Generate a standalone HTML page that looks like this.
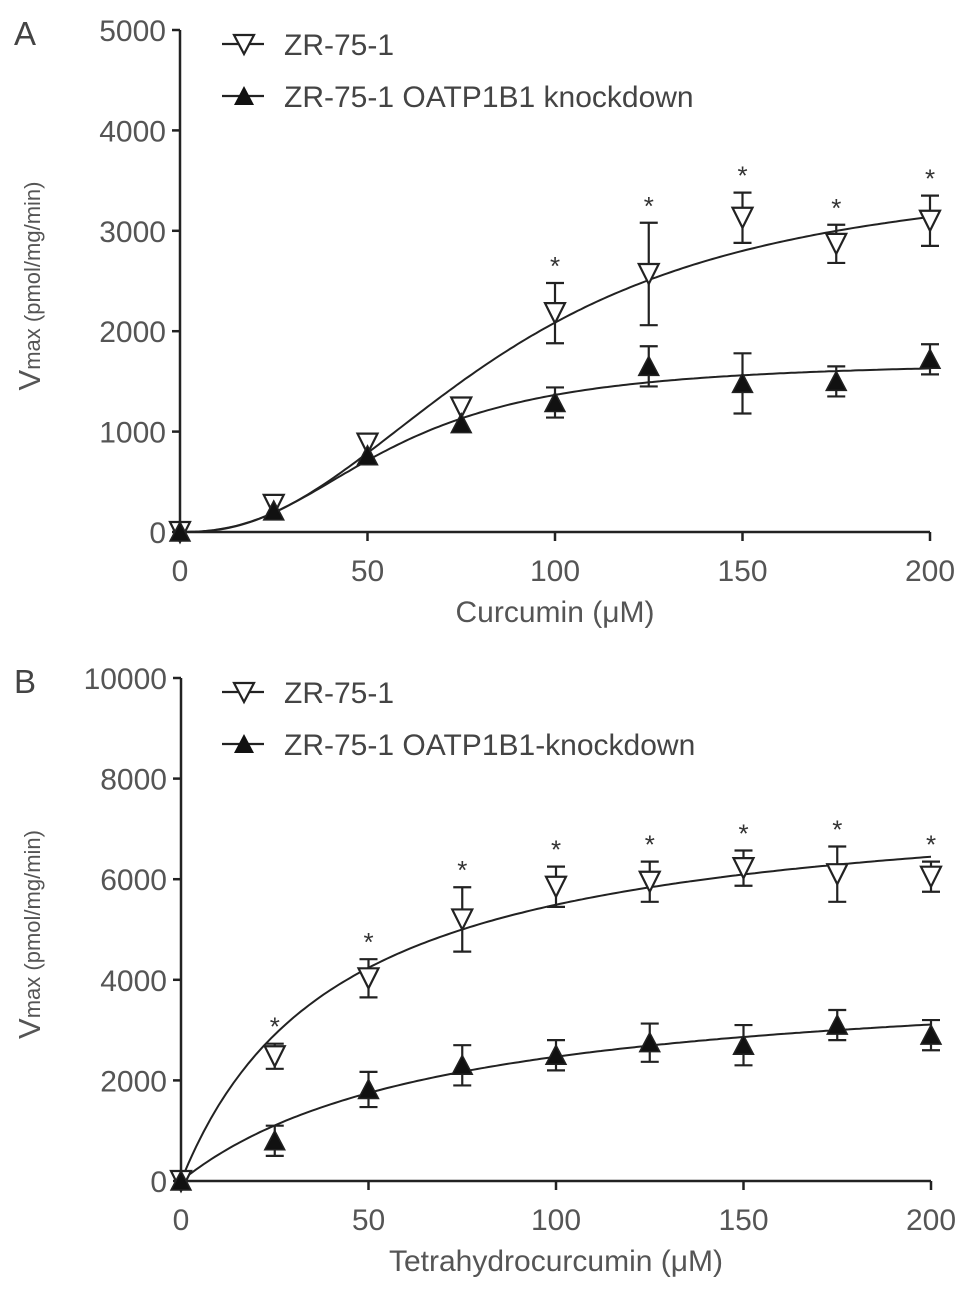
<!DOCTYPE html>
<html><head><meta charset="utf-8"><style>
html,body{margin:0;padding:0;background:#fff}
svg{display:block;font-family:"Liberation Sans",Arial,sans-serif}
</style></head><body>
<svg id="s" width="969" height="1292" viewBox="0 0 969 1292"></svg>
<script>
const xTicks=[0,50,100,150,200];
const aYTicks=[0,1000,2000,3000,4000,5000];
const bYTicks=[0,2000,4000,6000,8000,10000];
const conc=[0,25,50,75,100,125,150,175,200];
const aOpen=[0,270,880,1240,2180,2570,3130,2870,3100];
const aOpenErr=[0,0,0,0,300,510,250,190,250];
const aClosed=[0,210,760,1080,1290,1650,1480,1500,1720];
const aClosedErr=[0,0,0,0,150,200,300,150,150];
const aStar=[false,false,false,false,true,true,true,true,true];
const bOpen=[0,2480,4030,5200,5850,5950,6220,6100,6050];
const bOpenErr=[0,250,380,640,400,400,350,550,300];
const bClosed=[0,800,1820,2300,2500,2750,2700,3100,2900];
const bClosedErr=[0,300,350,400,300,380,400,300,300];
const bStar=[false,true,true,true,true,true,true,true,true];
const aOpenFit={vmax:3600,k:87,n:2.3};
const aClosedFit={vmax:1700,k:57,n:2.5};
const bOpenFit={vmax:7800,k:42};
const bClosedFit={vmax:4200,k:70};

const svg=document.getElementById('s');
const NS='http://www.w3.org/2000/svg';
function el(t,a,p){const e=document.createElementNS(NS,t);for(const k in a)e.setAttribute(k,a[k]);(p||svg).appendChild(e);return e;}

function panel(cfg){
  const g=el('g',{});
  
  
  const X=v=>cfg.x0+(v/200)*(cfg.x1-cfg.x0);
  const Y=v=>cfg.y0-(v/cfg.ymax)*(cfg.y0-cfg.y1);
  const c='#222';
  const ax=el('path',{d:`M${cfg.x0} ${cfg.y1}V${cfg.y0}H${X(200)}`,stroke:c,'stroke-width':2.5,fill:'none'},g);
  
  cfg.yTicks.forEach(t=>{
    el('line',{x1:cfg.x0-8,x2:cfg.x0,y1:Y(t),y2:Y(t),stroke:c,'stroke-width':2.5},g);
    const tx=el('text',{x:cfg.x0-14,y:Y(t)+11,'text-anchor':'end','font-size':30,fill:'#555'},g);
    tx.textContent=t;
    
  });
  xTicks.forEach(t=>{
    el('line',{x1:X(t),x2:X(t),y1:cfg.y0,y2:cfg.y0+9,stroke:c,'stroke-width':2.5},g);
    const tx=el('text',{x:X(t),y:cfg.y0+49,'text-anchor':'middle','font-size':30,fill:'#555'},g);
    tx.textContent=t;
    
  });
  const xt=el('text',{x:(cfg.x0+X(200))/2,y:cfg.y0+90,'text-anchor':'middle','font-size':30,fill:'#555'},g);
  xt.textContent=cfg.xtitle;
  
  const yt=el('text',{transform:`translate(40 ${(cfg.y0+cfg.y1)/2+5}) rotate(-90)`,'text-anchor':'middle','font-size':31,fill:'#555'},g);
  yt.innerHTML='V<tspan font-size="22">max (pmol/mg/min)</tspan>';
  
  const lt=el('text',{x:14,y:cfg.y1+15,'font-size':33,fill:'#444'},g);
  lt.textContent=cfg.letter;
  
  [[cfg.fitO,'fit-curve-control'],[cfg.fitC,'fit-curve-knockdown']].forEach(([f,n])=>{
    let d='';for(let i=0;i<=200;i++){const x=i;const v=f(x);d+=(i?'L':'M')+X(x).toFixed(1)+' '+Y(v).toFixed(1);}
    const p=el('path',{d,stroke:c,'stroke-width':2,fill:'none'},g);
    
  });
  function series(vals,errs,open,name){
    vals.forEach((v,i)=>{
      const cx=X(conc[i]),cy=Y(v);
      if(errs[i]){
        const e=el('path',{d:`M${cx} ${Y(v+errs[i])}V${Y(v-errs[i])}M${cx-9} ${Y(v+errs[i])}H${cx+9}M${cx-9} ${Y(v-errs[i])}H${cx+9}`,stroke:c,'stroke-width':2.2,fill:'none'},g);
        
      }
      const m=open?el('path',{d:`M${cx-10} ${cy-10}H${cx+10}L${cx} ${cy+10}Z`,stroke:c,'stroke-width':2.2,fill:'#fff'},g)
                  :el('path',{d:`M${cx-10} ${cy+9}H${cx+10}L${cx} ${cy-10}Z`,stroke:c,'stroke-width':1.5,fill:'#111'},g);
      
    });
  }
  series(cfg.open,cfg.openErr,true,'marker-control');
  series(cfg.closed,cfg.closedErr,false,'marker-knockdown');
  cfg.star.forEach((s,i)=>{if(!s)return;
    const t=el('text',{x:X(conc[i]),y:Y(cfg.open[i]+cfg.openErr[i])-8,'text-anchor':'middle','font-size':26,fill:'#333'},g);
    t.textContent='*';});
  [[true,cfg.leg1,0],[false,cfg.leg2,52]].forEach(([o,txt,dy])=>{
    const lg=el('g',{},g);
    const ly=cfg.y1+14+dy, lx=244;
    el('line',{x1:lx-22,x2:lx+20,y1:ly,y2:ly,stroke:c,'stroke-width':2.2},lg);
    if(o)el('path',{d:`M${lx-10} ${ly-9}H${lx+10}L${lx} ${ly+10}Z`,stroke:c,'stroke-width':2.2,fill:'#fff'},lg);
    else el('path',{d:`M${lx-10} ${ly+9}H${lx+10}L${lx} ${ly-10}Z`,fill:'#111'},lg);
    const t=el('text',{x:284,y:ly+11,'font-size':30,fill:'#444'},lg);t.textContent=txt;
  });
}
const hill=f=>x=>f.vmax*Math.pow(x,f.n)/(Math.pow(f.k,f.n)+Math.pow(x,f.n));
const mm=f=>x=>f.vmax*x/(f.k+x);
panel({name:'panel-a',letter:'A',x0:180,x1:930,y0:532,y1:30,ymax:5000,yTicks:aYTicks,xtitle:'Curcumin (\u03bcM)',
  open:aOpen,openErr:aOpenErr,closed:aClosed,closedErr:aClosedErr,star:aStar,fitO:hill(aOpenFit),fitC:hill(aClosedFit),
  leg1:'ZR-75-1',leg2:'ZR-75-1 OATP1B1 knockdown'});
panel({name:'panel-b',letter:'B',x0:181,x1:931,y0:1181,y1:678,ymax:10000,yTicks:bYTicks,xtitle:'Tetrahydrocurcumin (\u03bcM)',
  open:bOpen,openErr:bOpenErr,closed:bClosed,closedErr:bClosedErr,star:bStar,fitO:mm(bOpenFit),fitC:mm(bClosedFit),
  leg1:'ZR-75-1',leg2:'ZR-75-1 OATP1B1-knockdown'});
</script>
</body></html>
